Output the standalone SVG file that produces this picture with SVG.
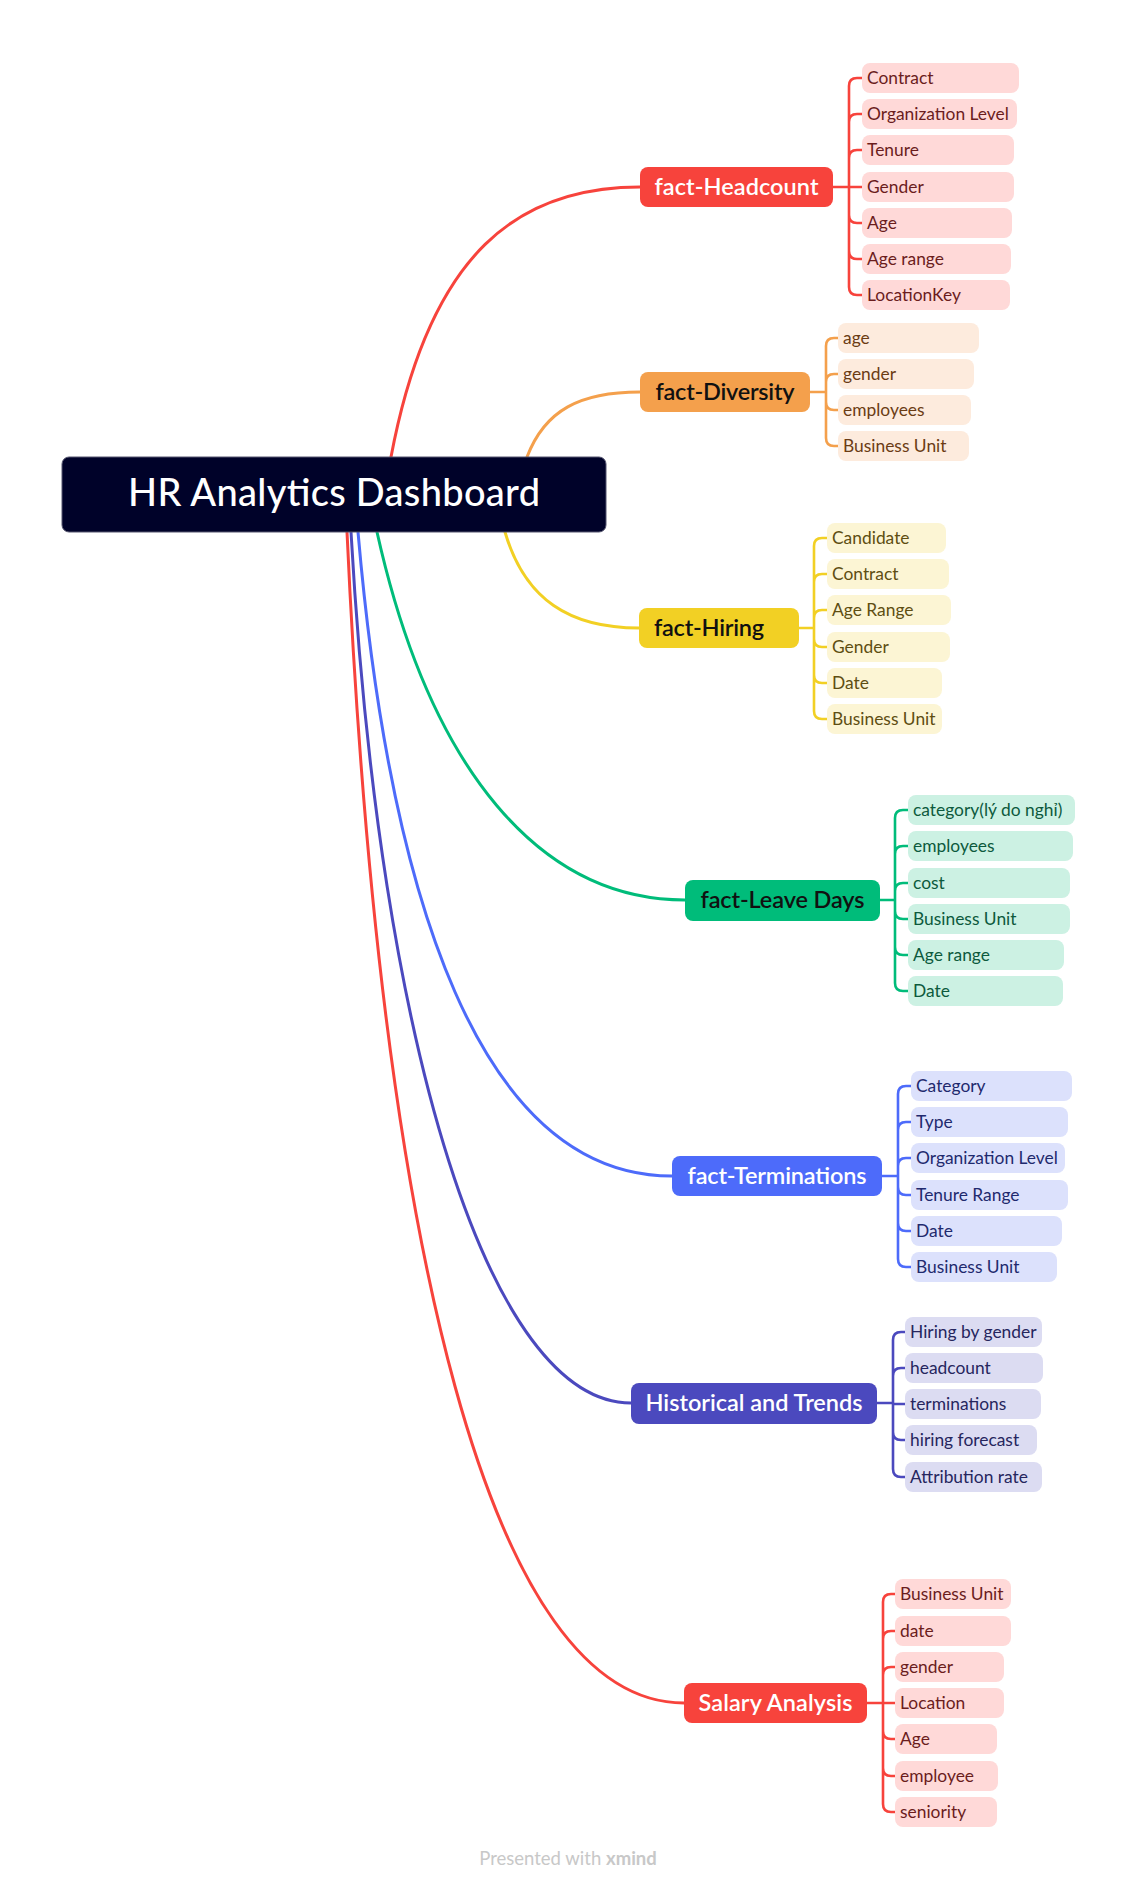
<svg xmlns="http://www.w3.org/2000/svg" width="1138" height="1890" viewBox="0 0 1138 1890">
<style>
text{font-family:Lato,"Noto Sans","DejaVu Sans",sans-serif}
.c{font-size:17.4px}
.m{font-size:23.5px;font-weight:600;text-anchor:middle}
.conn path{fill:none;stroke-width:3;stroke-linecap:round}
.br path{fill:none;stroke-width:2.6;stroke-linecap:round}
.red{stroke:#F7433C}.org{stroke:#F4A04C}.yel{stroke:#F2D024}.grn{stroke:#00BC7A}.blu{stroke:#4D6BFA}.ind{stroke:#4B49BE}
</style>
<rect width="1138" height="1890" fill="#fff"/>
<g id="connectors">
<g class="conn">
<path class="red" d="M391,457 C430,250 520,187 640,187"/>
<path class="org" d="M527,457 C545,410 580,392 640,392"/>
<path class="yel" d="M505,532 C525,600 570,628 639,628"/>
<path class="grn" d="M377,532 C430,770 540,900 685,900"/>
<path class="blu" d="M358,532 C390,900 480,1176 672,1176"/>
<path class="ind" d="M351,532 C380,1050 490,1403 631,1403"/>
<path class="red" d="M347,532 C380,1250 490,1703 684,1703"/>
</g>
<g class="br">
<path class="red" d="M833,187H849M849,86V287M849,86Q849,78 857,78H862M849,122Q849,114 857,114H862M849,158Q849,150 857,150H862M849,187H862M849,215Q849,223 857,223H862M849,251Q849,259 857,259H862M849,287Q849,295 857,295H862"/>
<path class="org" d="M810,392H826M826,346V438M826,346Q826,338 834,338H838M826,382Q826,374 834,374H838M826,402Q826,410 834,410H838M826,438Q826,446 834,446H838"/>
<path class="yel" d="M799,628H814M814,546V711M814,546Q814,538 822,538H827M814,582Q814,574 822,574H827M814,618Q814,610 822,610H827M814,639Q814,647 822,647H827M814,675Q814,683 822,683H827M814,711Q814,719 822,719H827"/>
<path class="grn" d="M880,900H895M895,818V983M895,818Q895,810 903,810H908M895,854Q895,846 903,846H908M895,891Q895,883 903,883H908M895,911Q895,919 903,919H908M895,947Q895,955 903,955H908M895,983Q895,991 903,991H908"/>
<path class="blu" d="M882,1176H898M898,1094V1259M898,1094Q898,1086 906,1086H911M898,1130Q898,1122 906,1122H911M898,1166Q898,1158 906,1158H911M898,1187Q898,1195 906,1195H911M898,1223Q898,1231 906,1231H911M898,1259Q898,1267 906,1267H911"/>
<path class="ind" d="M877,1403H893M893,1340V1469M893,1340Q893,1332 901,1332H905M893,1376Q893,1368 901,1368H905M893,1404H905M893,1432Q893,1440 901,1440H905M893,1469Q893,1477 901,1477H905"/>
<path class="red" d="M867,1703H883M883,1602V1804M883,1602Q883,1594 891,1594H895M883,1639Q883,1631 891,1631H895M883,1675Q883,1667 891,1667H895M883,1703H895M883,1731Q883,1739 891,1739H895M883,1768Q883,1776 891,1776H895M883,1804Q883,1812 891,1812H895"/>
</g>
</g>
<g id="root">
<rect x="62" y="457" width="544" height="75" rx="7" fill="#000229" stroke="#55556e" stroke-width="1"/>
<text x="334" y="506" font-size="38" font-weight="500" fill="#fff" text-anchor="middle" textLength="412">HR Analytics Dashboard</text>
</g>
<g id="headcount">
<rect x="640" y="167" width="193" height="40" rx="8" fill="#F7433C"/>
<text class="m" x="736.5" y="195" fill="#fff" textLength="164">fact-Headcount</text>
<g fill="#FFD9D8"><rect x="862" y="63" width="157" height="30" rx="8"/><rect x="862" y="99" width="155" height="30" rx="8"/><rect x="862" y="135" width="152" height="30" rx="8"/><rect x="862" y="172" width="152" height="30" rx="8"/><rect x="862" y="208" width="150" height="30" rx="8"/><rect x="862" y="244" width="149" height="30" rx="8"/><rect x="862" y="280" width="148" height="30" rx="8"/></g>
<g class="c" fill="#6B1D1D"><text x="867" y="84">Contract</text><text x="867" y="120">Organization Level</text><text x="867" y="156">Tenure</text><text x="867" y="193">Gender</text><text x="867" y="229">Age</text><text x="867" y="265">Age range</text><text x="867" y="301">LocationKey</text></g>
</g>
<g id="diversity">
<rect x="640" y="372" width="170" height="40" rx="8" fill="#F4A04C"/>
<text class="m" x="725" y="400" fill="#111" textLength="139">fact-Diversity</text>
<g fill="#FDEBDD"><rect x="838" y="323" width="141" height="30" rx="8"/><rect x="838" y="359" width="136" height="30" rx="8"/><rect x="838" y="395" width="133" height="30" rx="8"/><rect x="838" y="431" width="131" height="30" rx="8"/></g>
<g class="c" fill="#6B3C14"><text x="843" y="344">age</text><text x="843" y="380">gender</text><text x="843" y="416">employees</text><text x="843" y="452">Business Unit</text></g>
</g>
<g id="hiring">
<rect x="639" y="608" width="160" height="40" rx="8" fill="#F2D024"/>
<text class="m" x="709" y="636" fill="#111" textLength="110">fact-Hiring</text>
<g fill="#FCF5D4"><rect x="827" y="523" width="119" height="30" rx="8"/><rect x="827" y="559" width="122" height="30" rx="8"/><rect x="827" y="595" width="124" height="30" rx="8"/><rect x="827" y="632" width="123" height="30" rx="8"/><rect x="827" y="668" width="115" height="30" rx="8"/><rect x="827" y="704" width="115" height="30" rx="8"/></g>
<g class="c" fill="#5E4E12"><text x="832" y="544">Candidate</text><text x="832" y="580">Contract</text><text x="832" y="616">Age Range</text><text x="832" y="653">Gender</text><text x="832" y="689">Date</text><text x="832" y="725">Business Unit</text></g>
</g>
<g id="leave">
<rect x="685" y="880" width="195" height="41" rx="8" fill="#00BC7A"/>
<text class="m" x="782.5" y="908" fill="#111" textLength="164">fact-Leave Days</text>
<g fill="#CCF1E3"><rect x="908" y="795" width="167" height="30" rx="8"/><rect x="908" y="831" width="165" height="30" rx="8"/><rect x="908" y="868" width="162" height="30" rx="8"/><rect x="908" y="904" width="162" height="30" rx="8"/><rect x="908" y="940" width="156" height="30" rx="8"/><rect x="908" y="976" width="155" height="30" rx="8"/></g>
<g class="c" fill="#0D5A3D"><text x="913" y="816">category(lý do nghỉ)</text><text x="913" y="852">employees</text><text x="913" y="889">cost</text><text x="913" y="925">Business Unit</text><text x="913" y="961">Age range</text><text x="913" y="997">Date</text></g>
</g>
<g id="terminations">
<rect x="672" y="1156" width="210" height="40" rx="8" fill="#4D6BFA"/>
<text class="m" x="777" y="1184" fill="#fff" textLength="179">fact-Terminations</text>
<g fill="#DCE1FC"><rect x="911" y="1071" width="161" height="30" rx="8"/><rect x="911" y="1107" width="157" height="30" rx="8"/><rect x="911" y="1143" width="154" height="30" rx="8"/><rect x="911" y="1180" width="157" height="30" rx="8"/><rect x="911" y="1216" width="151" height="30" rx="8"/><rect x="911" y="1252" width="146" height="30" rx="8"/></g>
<g class="c" fill="#1F2A6E"><text x="916" y="1092">Category</text><text x="916" y="1128">Type</text><text x="916" y="1164">Organization Level</text><text x="916" y="1201">Tenure Range</text><text x="916" y="1237">Date</text><text x="916" y="1273">Business Unit</text></g>
</g>
<g id="historical">
<rect x="631" y="1383" width="246" height="41" rx="8" fill="#4B49BE"/>
<text class="m" x="754" y="1411" fill="#fff" textLength="217">Historical and Trends</text>
<g fill="#DCDCF2"><rect x="905" y="1317" width="137" height="30" rx="8"/><rect x="905" y="1353" width="138" height="30" rx="8"/><rect x="905" y="1389" width="136" height="30" rx="8"/><rect x="905" y="1425" width="132" height="30" rx="8"/><rect x="905" y="1462" width="137" height="30" rx="8"/></g>
<g class="c" fill="#26265E"><text x="910" y="1338">Hiring by gender</text><text x="910" y="1374">headcount</text><text x="910" y="1410">terminations</text><text x="910" y="1446">hiring forecast</text><text x="910" y="1483">Attribution rate</text></g>
</g>
<g id="salary">
<rect x="684" y="1683" width="183" height="40" rx="8" fill="#F7433C"/>
<text class="m" x="775.5" y="1711" fill="#fff" textLength="154">Salary Analysis</text>
<g fill="#FFD9D8"><rect x="895" y="1579" width="116" height="30" rx="8"/><rect x="895" y="1616" width="116" height="30" rx="8"/><rect x="895" y="1652" width="109" height="30" rx="8"/><rect x="895" y="1688" width="109" height="30" rx="8"/><rect x="895" y="1724" width="102" height="30" rx="8"/><rect x="895" y="1761" width="103" height="30" rx="8"/><rect x="895" y="1797" width="102" height="30" rx="8"/></g>
<g class="c" fill="#6B1D1D"><text x="900" y="1600">Business Unit</text><text x="900" y="1637">date</text><text x="900" y="1673">gender</text><text x="900" y="1709">Location</text><text x="900" y="1745">Age</text><text x="900" y="1782">employee</text><text x="900" y="1818">seniority</text></g>
</g>
<text x="568" y="1865" font-size="18.5" fill="#C8C8C8" text-anchor="middle">Presented with <tspan font-weight="700">xmind</tspan></text>
</svg>
